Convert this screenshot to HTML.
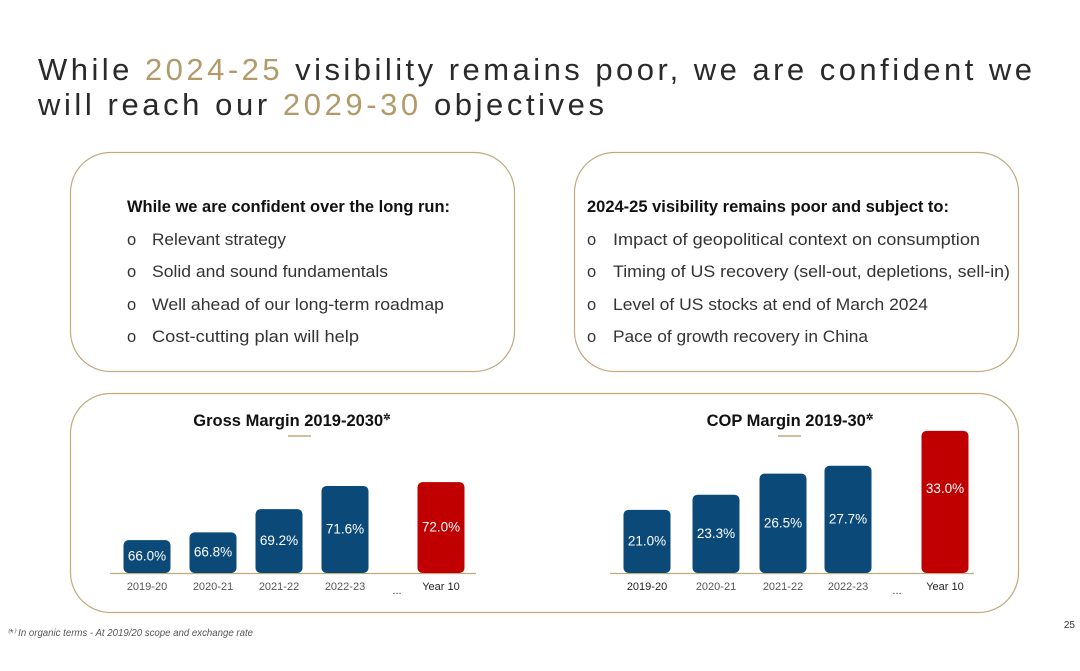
<!DOCTYPE html>
<html><head><meta charset="utf-8">
<style>
html,body{margin:0;padding:0;background:#fff;}
svg{display:block;font-family:"Liberation Sans",sans-serif;}
</style></head>
<body>
<svg id="s" width="1080" height="671" viewBox="0 0 1080 671">
  <g font-size="31" fill="#2a2a2a">
    <text x="38" y="80" textLength="994" lengthAdjust="spacing">While <tspan fill="#b39a6b">2024-25</tspan> visibility remains poor, we are confident we</text>
    <text x="38" y="115" textLength="566" lengthAdjust="spacing">will reach our <tspan fill="#b39a6b">2029-30</tspan> objectives</text>
  </g>

  <rect x="70.5" y="152.5" width="444" height="219" rx="40" fill="none" stroke="#c2aa7c" stroke-width="1.2"/>
  <rect x="574.5" y="152.5" width="444" height="219" rx="40" fill="none" stroke="#c2aa7c" stroke-width="1.2"/>
  <rect x="70.5" y="393.5" width="948" height="219" rx="40" fill="none" stroke="#c2aa7c" stroke-width="1.2"/>

  <g font-size="16.5" fill="#333">
    <text x="127" y="212" font-weight="bold" fill="#111" textLength="323" lengthAdjust="spacingAndGlyphs">While we are confident over the long run:</text>
    <text x="127" y="245">o</text><text x="152" y="245" textLength="134" lengthAdjust="spacingAndGlyphs">Relevant strategy</text>
    <text x="127" y="277">o</text><text x="152" y="277" textLength="236" lengthAdjust="spacingAndGlyphs">Solid and sound fundamentals</text>
    <text x="127" y="310">o</text><text x="152" y="310" textLength="292" lengthAdjust="spacingAndGlyphs">Well ahead of our long-term roadmap</text>
    <text x="127" y="342">o</text><text x="152" y="342" textLength="207" lengthAdjust="spacingAndGlyphs">Cost-cutting plan will help</text>
  </g>
  <g font-size="16.5" fill="#333">
    <text x="587" y="212" font-weight="bold" fill="#111" textLength="362" lengthAdjust="spacingAndGlyphs">2024-25 visibility remains poor and subject to:</text>
    <text x="587" y="245">o</text><text x="613" y="245" textLength="367" lengthAdjust="spacingAndGlyphs">Impact of geopolitical context on consumption</text>
    <text x="587" y="277">o</text><text x="613" y="277" textLength="397" lengthAdjust="spacingAndGlyphs">Timing of US recovery (sell-out, depletions, sell-in)</text>
    <text x="587" y="310">o</text><text x="613" y="310" textLength="315" lengthAdjust="spacingAndGlyphs">Level of US stocks at end of March 2024</text>
    <text x="587" y="342">o</text><text x="613" y="342" textLength="255" lengthAdjust="spacingAndGlyphs">Pace of growth recovery in China</text>
  </g>

  <text x="292" y="426" font-size="16.5" font-weight="bold" fill="#111" text-anchor="middle">Gross Margin 2019-2030<tspan font-size="9" dy="-6">✲</tspan></text>
  <line x1="288" y1="436" x2="311" y2="436" stroke="#c2aa7c" stroke-width="1.5"/>
  <text x="790" y="426" font-size="16.5" font-weight="bold" fill="#111" text-anchor="middle">COP Margin 2019-30<tspan font-size="9" dy="-6">✲</tspan></text>
  <line x1="778" y1="436" x2="801" y2="436" stroke="#c2aa7c" stroke-width="1.5"/>

  <g id="g1"></g>
  <g id="g2"></g>

  <text x="7" y="636" font-size="10" font-style="italic" fill="#555" textLength="246" lengthAdjust="spacingAndGlyphs">⁽*⁾ In organic terms - At 2019/20 scope and exchange rate</text>
  <text x="1075" y="628" font-size="10" fill="#333" text-anchor="end">25</text>
</svg>
<script>
const categories = ["2019-20","2020-21","2021-22","2022-23","Year 10"];
const grossValues = [66.0, 66.8, 69.2, 71.6, 72.0];
const copValues = [21.0, 23.3, 26.5, 27.7, 33.0];
const grossLabels = ["66.0%","66.8%","69.2%","71.6%","72.0%"];
const copLabels = ["21.0%","23.3%","26.5%","27.7%","33.0%"];

const NS = "http://www.w3.org/2000/svg";
function mk(tag, attrs, parent){const e=document.createElementNS(NS,tag);for(const k in attrs)e.setAttribute(k,attrs[k]);parent.appendChild(e);return e;}

function drawChart(g, vals, labels, cfg){
  const base = 573;
  const yScale = v => base - (v - cfg.v0) * cfg.k;
  const ax = mk("line",{x1:cfg.axX0,x2:cfg.axX1,y1:base+0.5,y2:base+0.5,stroke:"#c2aa7c","stroke-width":1.3},g);
  
  
  vals.forEach((v,i)=>{
    const cx = cfg.centers[i];
    const top = yScale(v);
    const last = i === vals.length-1;
    const r = mk("rect",{x:cx-23.5,y:top,width:47,height:base-top,rx:5,fill:last?"#c00000":"#0b4a78"},g);
    
    
    const h = base - top;
    const ly = top + Math.min(h*0.5 + 4, 62);
    const t = mk("text",{x:cx,y:ly,"font-size":13.5,fill:"#fff","text-anchor":"middle"},g);
    t.textContent = labels[i];
    
    
    const c = mk("text",{x:cx,y:590,"font-size":11,fill:i===4||(cfg.firstDark&&i===0)?"#222":"#555","text-anchor":"middle"},g);
    c.textContent = categories[i];
    
    
  });
  const d = mk("text",{x:cfg.dotsX,y:594,"font-size":11,fill:"#333","text-anchor":"middle"},g);
  d.textContent = "...";
  
  
}

drawChart(document.getElementById('g1'), grossValues, grossLabels, {
  v0:62.6, k:9.67, centers:[147,213,279,345,441], axX0:110, axX1:476, dotsX:397
});
drawChart(document.getElementById('g2'), copValues, copLabels, {
  v0:11.4, k:6.58, centers:[647,716,783,848,945], axX0:610, axX1:974, dotsX:897, firstDark:true
});
</script>
</body></html>
